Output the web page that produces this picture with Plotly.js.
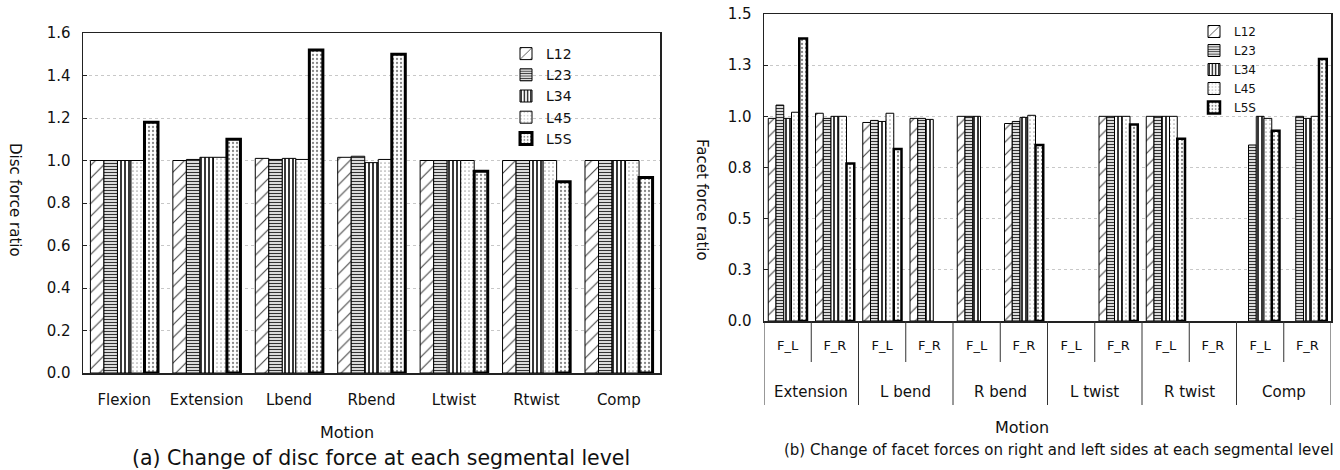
<!DOCTYPE html>
<html>
<head>
<meta charset="utf-8">
<script src="https://cdn.plot.ly/plotly-3.0.1.min.js"></script>
<style>html,body{margin:0;padding:0;background:#fff;}#chart{width:1340px;height:470px;}</style>
</head>
<body>
<div id="chart"></div>
<script>
// ---------- data: (a) disc force ratio ----------
const motions = ['Flexion', 'Extension', 'Lbend', 'Rbend', 'Ltwist', 'Rtwist', 'Comp'];
const discL12 = [1.00, 1.00, 1.01, 1.015, 1.00, 1.00, 1.00];
const discL23 = [1.00, 1.005, 1.005, 1.02, 1.00, 1.00, 1.00];
const discL34 = [1.00, 1.015, 1.01, 0.99, 1.00, 1.00, 1.00];
const discL45 = [1.00, 1.015, 1.005, 1.005, 1.00, 1.00, 1.00];
const discL5S = [1.18, 1.10, 1.52, 1.50, 0.95, 0.90, 0.92];
const discTicks = [0, 0.2, 0.4, 0.6, 0.8, 1.0, 1.2, 1.4, 1.6];

// ---------- data: (b) facet force ratio ----------
const facetGroups = ['Extension', 'L bend', 'R bend', 'L twist', 'R twist', 'Comp'];
const facetSides = ['F_L', 'F_R'];
// order: Ext F_L, Ext F_R, Lbend F_L, Lbend F_R, Rbend F_L, Rbend F_R, Ltwist F_L, Ltwist F_R, Rtwist F_L, Rtwist F_R, Comp F_L, Comp F_R
const facetL12 = [0.99, 1.015, 0.97, 0.99, 1.00, 0.965, null, 1.00, 1.00, null, null, null];
const facetL23 = [1.055, 0.99, 0.98, 0.99, 1.00, 0.975, null, 1.00, 1.00, null, 0.86, 1.00];
const facetL34 = [0.99, 1.00, 0.975, 0.985, 1.00, 0.995, null, 1.00, 1.00, null, 1.00, 0.99];
const facetL45 = [1.02, 1.00, 1.015, null, null, 1.005, null, 1.00, 1.00, null, 0.99, 1.00];
const facetL5S = [1.38, 0.77, 0.84, null, null, 0.86, null, 0.96, 0.89, null, 0.93, 1.28];
const facetTickVals = [0, 0.25, 0.5, 0.75, 1.0, 1.25, 1.5];
const facetTickText = ['0.0', '0.3', '0.5', '0.8', '1.0', '1.3', '1.5'];

const levels = ['L12', 'L23', 'L34', 'L45', 'L5S'];
const discSeries = [discL12, discL23, discL34, discL45, discL5S];
const facetSeries = [facetL12, facetL23, facetL34, facetL45, facetL5S];

// ---------- styles ----------
const FONT = 'DejaVu Sans, Liberation Sans, sans-serif';
const styles = [
  {pattern: {shape: '/', fgcolor: '#444', bgcolor: '#fff', size: 9, solidity: 0.12}, lw: 1},
  {pattern: {shape: '-', fgcolor: '#333', bgcolor: '#fff', size: 3, solidity: 0.45}, lw: 1},
  {pattern: {shape: '|', fgcolor: '#222', bgcolor: '#fff', size: 4, solidity: 0.45}, lw: 1},
  {pattern: {shape: '.', fgcolor: '#aaa', bgcolor: '#fff', size: 4, solidity: 0.15}, lw: 1},
  {pattern: {shape: '.', fgcolor: '#888', bgcolor: '#fff', size: 4, solidity: 0.25}, lw: 3}
];

const W = 1340, H = 470;
const px = v => v / W;
const py = v => 1 - v / H;

const facetX = [];
for (let g = 0; g < facetGroups.length; g++) for (let s = 0; s < facetSides.length; s++) facetX.push(g * facetSides.length + s);
const facetTicks = facetX.map(i => facetSides[i % facetSides.length]);

const traces = [];
levels.forEach((lv, k) => {
  traces.push({
    type: 'bar', name: lv, x: motions, y: discSeries[k], xaxis: 'x', yaxis: 'y', legend: 'legend',
    marker: {color: '#fff', pattern: styles[k].pattern, line: {color: '#000', width: styles[k].lw}},
    hoverinfo: 'x+y+name'
  });
});
levels.forEach((lv, k) => {
  traces.push({
    type: 'bar', name: lv, x: facetX, y: facetSeries[k], xaxis: 'x2', yaxis: 'y2', legend: 'legend2',
    marker: {color: '#fff', pattern: styles[k].pattern, line: {color: '#000', width: k === 4 ? 2.5 : 1}},
    hoverinfo: 'y+name'
  });
});

function note(text, x, y, size, extra) {
  return Object.assign({text: text, x: px(x), y: py(y), xref: 'paper', yref: 'paper', xanchor: 'center', yanchor: 'middle',
    showarrow: false, font: {size: size, family: FONT, color: '#111'}}, extra || {});
}
const annotations = [
  note('Disc force ratio', 15, 200, 15, {textangle: 90}),
  note('Motion', 347, 432, 16),
  note('(a) Change of disc force at each segmental level', 381, 458, 20.5),
  note('Facet force ratio', 702, 200, 15, {textangle: 90}),
  note('Motion', 1022, 427, 16),
  note('(b) Change of facet forces on right and left sides at each segmental level', 1059, 450, 15)
];
const shapes = [];
const nS = facetSides.length;
facetGroups.forEach((g, i) => {
  annotations.push({text: g, x: i * nS + (nS - 1) / 2, xref: 'x2', y: py(392), yref: 'paper', xanchor: 'center', yanchor: 'middle',
    showarrow: false, font: {size: 15, family: FONT, color: '#111'}});
  shapes.push({type: 'line', xref: 'x2', yref: 'paper', x0: i * nS + 0.5, x1: i * nS + 0.5, y0: py(321), y1: py(362), line: {color: '#333', width: 1}});
});
for (let i = 0; i <= facetGroups.length; i++) {
  shapes.push({type: 'line', xref: 'x2', yref: 'paper', x0: i * nS - 0.5, x1: i * nS - 0.5, y0: py(321), y1: py(405), line: {color: '#333', width: 1}});
}

const axisLine = {showline: true, mirror: true, linecolor: '#222', linewidth: 1.5, zeroline: false};
const layout = {
  width: W, height: H, margin: {l: 0, r: 0, t: 0, b: 0},
  paper_bgcolor: '#fff', plot_bgcolor: '#fff',
  font: {family: FONT, color: '#111', size: 14},
  barmode: 'group', bargap: 0.18, bargroupgap: 0,
  xaxis: Object.assign({domain: [px(83), px(660)], anchor: 'y', type: 'category', ticks: '', showgrid: false,
    tickfont: {size: 15}, ticklabelstandoff: 12}, axisLine),
  yaxis: Object.assign({domain: [py(373), py(33)], anchor: 'x', range: [0, 1.6], tickvals: discTicks, tickformat: '.1f',
    ticks: 'inside', ticklen: 4, tickcolor: '#222', showgrid: true, gridcolor: '#c8c8c8', griddash: 'dot', gridwidth: 1,
    tickfont: {size: 15}, ticklabelstandoff: 8}, axisLine),
  xaxis2: Object.assign({domain: [px(764), px(1331)], anchor: 'y2', range: [-0.5, facetX.length - 0.5], tickvals: facetX, ticktext: facetTicks,
    ticks: '', showgrid: false, tickfont: {size: 13}, ticklabelstandoff: 12}, axisLine),
  yaxis2: Object.assign({domain: [py(321), py(14)], anchor: 'x2', range: [0, 1.5], tickvals: facetTickVals, ticktext: facetTickText,
    ticks: 'inside', ticklen: 4, tickcolor: '#222', showgrid: true, gridcolor: '#c8c8c8', griddash: 'dot', gridwidth: 1,
    tickfont: {size: 15}, ticklabelstandoff: 8}, axisLine),
  legend: {x: px(506), y: py(38), xanchor: 'left', yanchor: 'top', bgcolor: 'rgba(0,0,0,0)', font: {size: 14}, tracegroupgap: 0},
  legend2: {x: px(1194), y: py(17), xanchor: 'left', yanchor: 'top', bgcolor: 'rgba(0,0,0,0)', font: {size: 12}, tracegroupgap: 0},
  annotations: annotations,
  shapes: shapes,
  showlegend: true
};

Plotly.newPlot('chart', traces, layout, {displayModeBar: false, staticPlot: true});
</script>
</body>
</html>
